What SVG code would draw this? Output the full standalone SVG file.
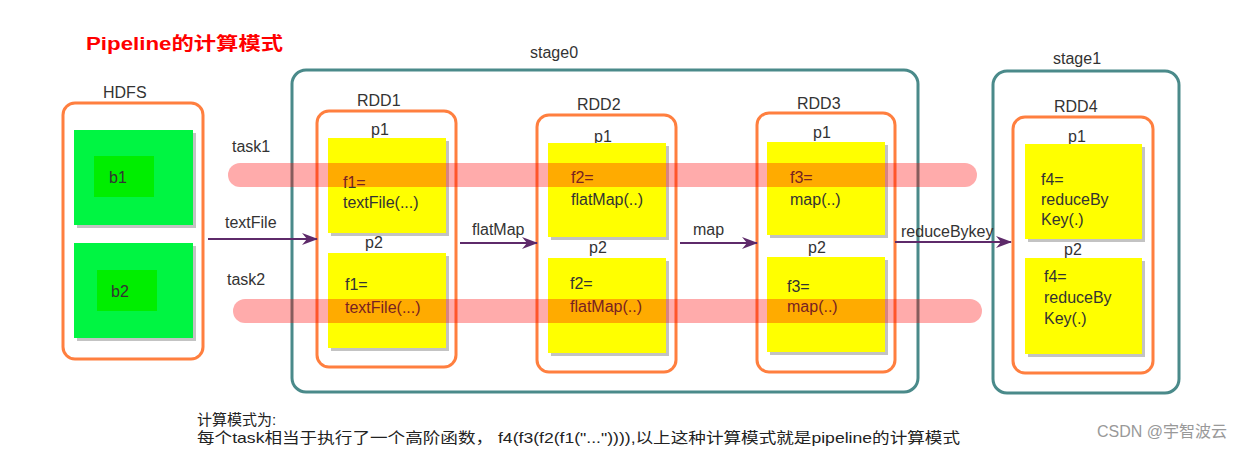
<svg xmlns="http://www.w3.org/2000/svg" width="1248" height="450" viewBox="0 0 1248 450">
<defs>
<style>
text{font-family:"Liberation Sans","Noto Sans CJK SC",sans-serif;fill:#333;font-size:16px}
.title{fill:#ff0000;font-weight:bold;font-size:18px}
.stage{fill:none;stroke:#4a8a8a;stroke-width:3}
.rdd{fill:none;stroke:#ff7f3f;stroke-width:3}
.blk{fill:#00f542}
.blkin{fill:#00ee00}
.part{fill:#ffff00}
.shadow{fill:#888;opacity:0.5}
.band{fill:#ff0000;fill-opacity:0.33}
.arrow{stroke:#5e2a6a;stroke-width:2;fill:none}
.note{font-size:15px;fill:#222}
.wm{fill:#999;font-size:16px}
</style>
<marker id="ah" markerUnits="userSpaceOnUse" markerWidth="16" markerHeight="12" refX="15" refY="6" orient="auto">
<path d="M0,0 L16,6 L0,12 L5,6 Z" fill="#5e2a6a"/>
</marker>
</defs>
<rect width="1248" height="450" fill="#fff"/>
<text class="title" x="86" y="50" textLength="197" lengthAdjust="spacingAndGlyphs">Pipeline的计算模式</text>

<g id="hdfs">
<text x="103" y="98">HDFS</text>
<rect class="rdd" x="63" y="103" width="140" height="256" rx="12"/>
</g>
<g id="b1">
<rect class="shadow" x="77" y="133" width="119" height="95"/>
<rect class="blk" x="74" y="130" width="119" height="95"/>
<rect class="blkin" x="94" y="156" width="60" height="41"/>
<text x="109" y="183">b1</text>
</g>
<g id="b2">
<rect class="shadow" x="77" y="246" width="119" height="95"/>
<rect class="blk" x="74" y="243" width="119" height="95"/>
<rect class="blkin" x="97" y="270" width="60" height="41"/>
<text x="111" y="297">b2</text>
</g>

<g id="stage0">
<text x="530" y="58">stage0</text>
<rect class="stage" x="292" y="70" width="626" height="322" rx="14"/>
</g>
<g id="stage1">
<text x="1053" y="64">stage1</text>
<rect class="stage" x="993" y="71" width="186" height="322" rx="14"/>
</g>

<g id="rdd1">
<text x="357" y="106">RDD1</text>
<rect class="rdd" x="317" y="111" width="139" height="256" rx="12"/>
</g>
<g id="rdd1-p1">
<text x="371" y="135">p1</text>
<rect class="shadow" x="331" y="141" width="118" height="95"/>
<rect class="part" x="328" y="138" width="118" height="95"/>
<text x="343" y="188">f1=</text>
<text x="343" y="208">textFile(...)</text>
</g>
<g id="rdd1-p2">
<text x="365" y="248">p2</text>
<rect class="shadow" x="331" y="256" width="118" height="95"/>
<rect class="part" x="328" y="253" width="118" height="95"/>
<text x="345" y="290">f1=</text>
<text x="345" y="313">textFile(...)</text>
</g>

<g id="rdd2">
<text x="577" y="110">RDD2</text>
<rect class="rdd" x="537" y="115" width="139" height="257" rx="12"/>
</g>
<g id="rdd2-p1">
<text x="594" y="142">p1</text>
<rect class="shadow" x="551" y="146" width="118" height="94"/>
<rect class="part" x="548" y="143" width="118" height="94"/>
<text x="571" y="183">f2=</text>
<text x="571" y="205">flatMap(..)</text>
</g>
<g id="rdd2-p2">
<text x="589" y="253">p2</text>
<rect class="shadow" x="551" y="261" width="118" height="95"/>
<rect class="part" x="548" y="258" width="118" height="95"/>
<text x="570" y="289">f2=</text>
<text x="570" y="312">flatMap(..)</text>
</g>

<g id="rdd3">
<text x="797" y="109">RDD3</text>
<rect class="rdd" x="757" y="113" width="138" height="259" rx="12"/>
</g>
<g id="rdd3-p1">
<text x="813" y="138">p1</text>
<rect class="shadow" x="770" y="145" width="118" height="93"/>
<rect class="part" x="767" y="142" width="118" height="93"/>
<text x="790" y="183">f3=</text>
<text x="790" y="205">map(..)</text>
</g>
<g id="rdd3-p2">
<text x="808" y="253">p2</text>
<rect class="shadow" x="770" y="260" width="118" height="95"/>
<rect class="part" x="767" y="257" width="118" height="95"/>
<text x="787" y="292">f3=</text>
<text x="787" y="312">map(..)</text>
</g>

<g id="rdd4">
<text x="1054" y="112">RDD4</text>
<rect class="rdd" x="1013" y="117" width="140" height="256" rx="12"/>
</g>
<g id="rdd4-p1">
<text x="1068" y="142">p1</text>
<rect class="shadow" x="1028" y="147" width="117" height="95"/>
<rect class="part" x="1025" y="144" width="117" height="95"/>
<text x="1041" y="185">f4=</text>
<text x="1041" y="205">reduceBy</text>
<text x="1041" y="225">Key(.)</text>
</g>
<g id="rdd4-p2">
<text x="1064" y="255">p2</text>
<rect class="shadow" x="1028" y="261" width="117" height="96"/>
<rect class="part" x="1025" y="258" width="117" height="96"/>
<text x="1044" y="282">f4=</text>
<text x="1044" y="303">reduceBy</text>
<text x="1044" y="324">Key(.)</text>
</g>

<g id="connectors">
<path class="arrow" d="M208,239 L317,239" marker-end="url(#ah)"/>
<text x="225" y="228">textFile</text>
<path class="arrow" d="M460,243 L537,243" marker-end="url(#ah)"/>
<text x="472" y="235">flatMap</text>
<path class="arrow" d="M680,243 L757,243" marker-end="url(#ah)"/>
<text x="693" y="235">map</text>
<path class="arrow" d="M895,242 L1011,242" marker-end="url(#ah)"/>
<text x="901" y="237">reduceBykey</text>
</g>

<g id="tasks">
<text x="232" y="152">task1</text>
<rect class="band" x="228" y="163" width="749" height="24" rx="12"/>
<text x="227" y="285">task2</text>
<rect class="band" x="233" y="299" width="749" height="24" rx="12"/>
</g>

<g id="notes">
<text class="note" x="197" y="425">计算模式为:</text>
<text class="note" x="197" y="443" textLength="763" lengthAdjust="spacingAndGlyphs">每个task相当于执行了一个高阶函数， f4(f3(f2(f1("...")))),以上这种计算模式就是pipeline的计算模式</text>
<text class="wm" x="1097" y="437">CSDN @宇智波云</text>
</g>
</svg>
